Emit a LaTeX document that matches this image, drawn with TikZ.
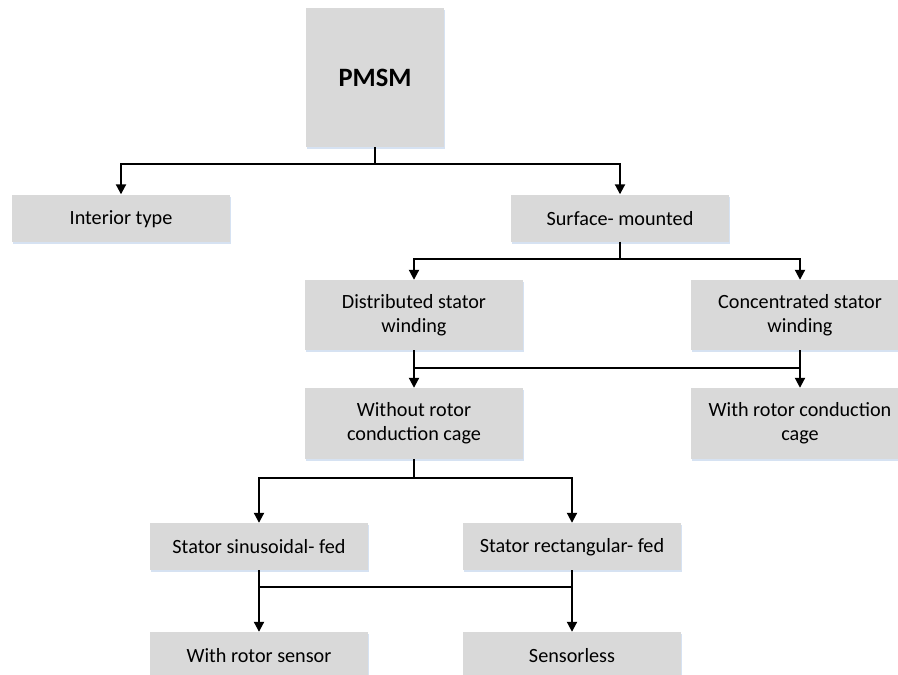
\documentclass[tikz,border=0pt]{standalone}
\usepackage{fontspec}
\setmainfont{Carlito}
\usetikzlibrary{arrows.meta,shadows}

\definecolor{boxfill}{RGB}{217,217,217}
\definecolor{boxglow}{RGB}{214,226,242}

% invisible struts that fix where each line of text sits in its box
\newcommand\linestrut{\rule[-2pt]{0pt}{18pt}}
\newcommand\rootstrut{\rule[-2pt]{0pt}{21pt}}

\tikzset{
  box/.style={rectangle, fill=boxfill, inner sep=2pt, align=center,
    minimum width=218pt, minimum height=47pt, text=black,
    font=\fontsize{20.2}{24}\selectfont,
    execute at begin node=\linestrut, execute at end node=\linestrut,
    drop shadow={shadow xshift=1pt, shadow yshift=-2pt, fill=boxglow, opacity=1}},
  tallbox/.style={box, minimum height=70pt},
  rootbox/.style={box, minimum width=138pt, minimum height=139pt,
    font=\fontsize{26.5}{30}\selectfont\bfseries,
    execute at begin node=\rootstrut, execute at end node=\rootstrut},
  link/.style={line width=2pt, draw=black},
  arrow/.style={link, -{Triangle[width=10pt,length=10pt]}}
}

\begin{document}
\begin{tikzpicture}[x=1pt, y=-1pt]
  \clip (0,0) rectangle (898,675);
  \fill[white] (0,0) rectangle (898,675);

  % boxes of the classification tree
  \node[rootbox] (pmsm) at (375,77.5) {PMSM};
  \node[box] (interior) at (121,218) {Interior type};
  \node[box] (surface) at (620,218) {Surface- mounted};
  \node[tallbox] (distrib) at (414,315) {Distributed stator\\winding};
  \node[tallbox] (concent) at (800,315) {Concentrated stator\\winding};
  \node[tallbox, minimum height=71pt] (nocage) at (414,423.5) {Without rotor\\conduction cage};
  \node[tallbox, minimum height=71pt] (cage) at (800,423.5) {With rotor conduction\\cage};
  \node[box] (sinus) at (259,546.5) {Stator sinusoidal- fed};
  \node[box] (rect) at (572,546.5) {Stator rectangular- fed};
  \node[box] (sensor) at (259,655.5) {With rotor sensor};
  \node[box] (sensorless) at (572,655.5) {Sensorless};

  % junction points of the connector buses
  \coordinate (j1) at (375,164);
  \coordinate (j2) at (620,259);
  \coordinate (j3l) at (414,368);
  \coordinate (j3r) at (800,368);
  \coordinate (j4) at (414,478);
  \coordinate (j5l) at (259,587);
  \coordinate (j5r) at (572,587);

  % PMSM -> rotor types
  \draw[link] (pmsm.south) -- (j1);
  \draw[arrow] (j1) -| (interior.north);
  \draw[arrow] (j1) -| (surface.north);

  % surface-mounted -> winding types
  \draw[link] (surface.south) -- (j2);
  \draw[arrow] (j2) -| (distrib.north);
  \draw[arrow] (j2) -| (concent.north);

  % winding types -> cage types
  \draw[link] (distrib.south) -- (j3l);
  \draw[link] (concent.south) -- (j3r);
  \draw[link] (j3l) -- (j3r);
  \draw[arrow] (j3l) -- (nocage.north);
  \draw[arrow] (j3r) -- (cage.north);

  % no cage -> supply types
  \draw[link] (nocage.south) -- (j4);
  \draw[arrow] (j4) -| (sinus.north);
  \draw[arrow] (j4) -| (rect.north);

  % supply types -> sensing
  \draw[link] (sinus.south) -- (j5l);
  \draw[link] (rect.south) -- (j5r);
  \draw[link] (j5l) -- (j5r);
  \draw[arrow] (j5l) -- (sensor.north);
  \draw[arrow] (j5r) -- (sensorless.north);
\end{tikzpicture}
\end{document}
